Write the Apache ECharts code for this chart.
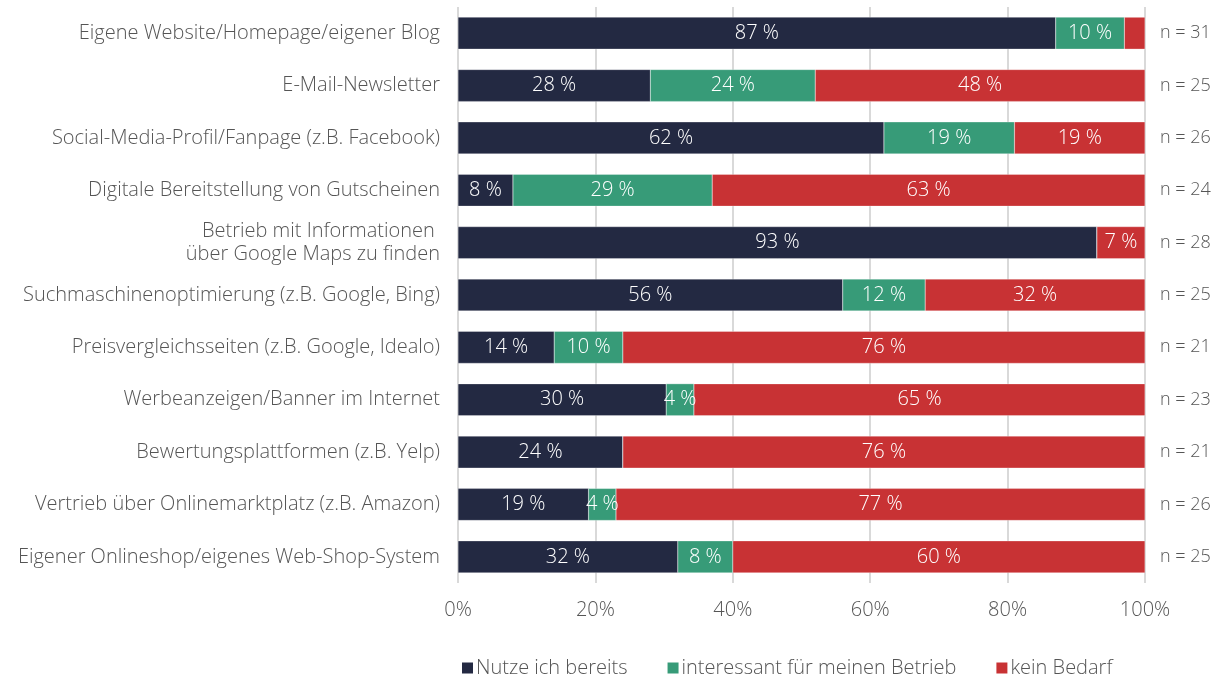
<!DOCTYPE html>
<html>
<head>
<meta charset="utf-8">
<script src="https://cdn.jsdelivr.net/npm/echarts@6/dist/echarts.min.js"></script>
<style>
  html, body { margin: 0; padding: 0; background: #fff; }
  #chart { width: 1223px; height: 677px; }
</style>
</head>
<body>
<div id="chart"></div>
<script>
var categories = [
	'Eigene Website/Homepage/eigener Blog',
	'E-Mail-Newsletter',
	'Social-Media-Profil/Fanpage (z.B. Facebook)',
	'Digitale Bereitstellung von Gutscheinen',
	'Betrieb mit Informationen \nüber Google Maps zu finden',
	'Suchmaschinenoptimierung (z.B. Google, Bing)',
	'Preisvergleichsseiten (z.B. Google, Idealo)',
	'Werbeanzeigen/Banner im Internet',
	'Bewertungsplattformen (z.B. Yelp)',
	'Vertrieb über Onlinemarktplatz (z.B. Amazon)',
	'Eigener Onlineshop/eigenes Web-Shop-System'
];
var nutze = [87, 28, 62, 8, 93, 56, 14, 30, 24, 19, 32];
var interessant = [10, 24, 19, 29, 0, 12, 10, 4, 0, 4, 8];
var keinBedarf = [3, 48, 19, 63, 7, 32, 76, 65, 76, 77, 60];
var nWerte = [31, 25, 26, 24, 28, 25, 21, 23, 21, 26, 25];
var xTicks = [0, 20, 40, 60, 80, 100];

var serien = [
	{ name: 'Nutze ich bereits', data: nutze, color: '#232942' },
	{ name: 'interessant für meinen Betrieb', data: interessant, color: '#379b78' },
	{ name: 'kein Bedarf', data: keinBedarf, color: '#c83234' }
];

// Zeilensummen für 100%-Darstellung
var summen = nutze.map(function (v, i) {
	return v + interessant[i] + keinBedarf[i];
});

var chart = echarts.init(document.getElementById('chart'));
var schrift = '"Open Sans", "Noto Sans", sans-serif';

var option = {
	animation: false,
	textStyle: { fontFamily: schrift, fontWeight: 300 },
	grid: { left: 458, right: 78, top: 7, bottom: 94, containLabel: false },
	legend: {
		top: 653,
		left: 455,
		itemWidth: 13,
		itemHeight: 13,
		itemGap: 38,
		icon: 'rect',
		textStyle: { fontSize: 20, color: '#555', fontFamily: schrift, fontWeight: 300, padding: [0, 0, 0, -3] },
		data: serien.map(function (s) { return s.name; })
	},
	xAxis: {
		type: 'value',
		min: 0,
		max: 100,
		interval: 20,
		axisLine: { show: false },
		axisTick: { show: false },
		splitLine: { lineStyle: { color: '#d9d9d9', width: 2 } },
		axisLabel: {
			fontSize: 20,
			color: '#555',
			fontWeight: 300,
			margin: 17,
			formatter: function (v) { return xTicks.indexOf(v) >= 0 ? v + '%' : ''; }
		}
	},
	yAxis: [{
		type: 'category',
		inverse: true,
		data: categories,
		axisLine: { show: false },
		axisTick: { show: false },
		axisLabel: { fontSize: 20, color: '#555', fontWeight: 300, margin: 18, lineHeight: 23 }
	}, {
		type: 'category',
		inverse: true,
		position: 'right',
		data: nWerte.map(function (n) { return 'n = ' + n; }),
		axisLine: { show: false },
		axisTick: { show: false },
		axisLabel: { fontSize: 18, color: '#555', fontWeight: 300, margin: 15, align: 'left' }
	}],
	series: serien.map(function (s) {
		return {
			name: s.name,
			type: 'bar',
			stack: 'gesamt',
			barWidth: 32,
			itemStyle: { color: s.color, borderColor: '#ffffff', borderWidth: 0.3 },
			data: s.data.map(function (v, i) {
				return { value: v / summen[i] * 100 };
			}),
			label: {
				show: true,
				position: 'inside',
				color: '#fff',
				fontSize: 20,
				fontWeight: 300,
				fontFamily: schrift,
				formatter: function (p) {
					var roh = s.data[p.dataIndex];
					return roh >= 4 ? roh + ' %' : '';
				}
			}
		};
	})
};

chart.setOption(option);
window.addEventListener('resize', function () {
	chart.resize();
});
</script>
</body>
</html>
